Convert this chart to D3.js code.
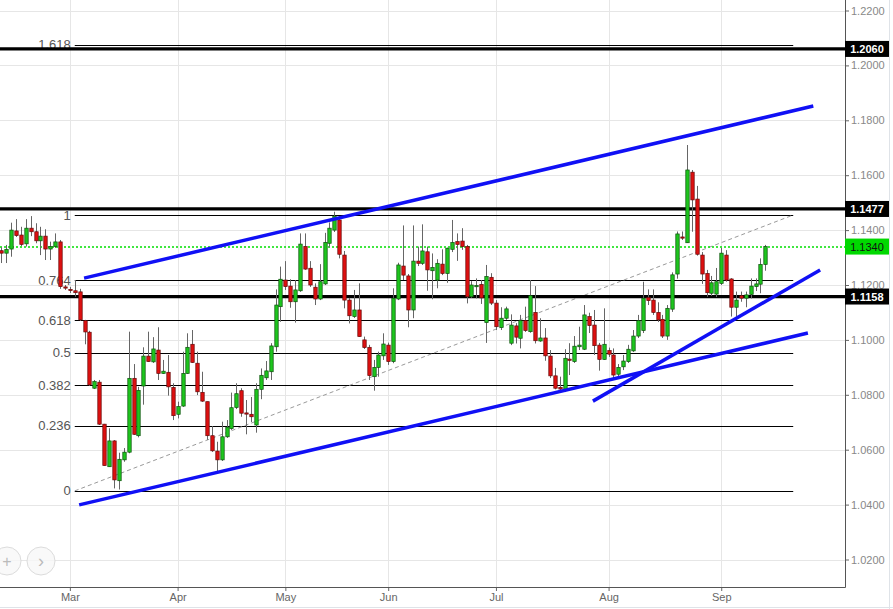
<!DOCTYPE html>
<html><head><meta charset="utf-8">
<script src="https://cdn.jsdelivr.net/npm/d3@7/dist/d3.min.js"></script>
<style>body{margin:0;background:#fff;}svg{display:block;font-family:"Liberation Sans",Arial,sans-serif;}</style>
</head><body>
<svg id="c" width="893" height="609"></svg>
<script>
const opens=[1.1325,1.1316,1.1331,1.1397,1.1382,1.1350,1.1407,1.1394,1.1361,1.1378,1.1331,1.1340,1.1357,1.1193,1.1184,1.1179,1.1175,1.1070,1.1028,1.0824,1.0846,1.0693,1.0538,1.0632,1.0487,1.0563,1.0591,1.0860,1.0651,1.0832,1.0941,1.0920,1.0963,1.0878,1.0882,1.0827,1.0729,1.0759,1.0878,1.0984,1.0915,1.0809,1.0775,1.0651,1.0595,1.0563,1.0647,1.0677,1.0754,1.0815,1.0734,1.0729,1.0690,1.0820,1.0862,1.0884,1.0975,1.1121,1.1218,1.1196,1.1139,1.1179,1.1340,1.1261,1.1192,1.1149,1.1204,1.1352,1.1400,1.1437,1.1309,1.1145,1.1085,1.1109,1.1000,1.0973,1.0866,1.0900,1.0942,1.0981,1.0921,1.1149,1.1269,1.1233,1.1109,1.1287,1.1279,1.1321,1.1252,1.1218,1.1276,1.1242,1.1330,1.1358,1.1360,1.1340,1.1157,1.1194,1.1202,1.1063,1.1228,1.1134,1.1045,1.1079,1.0988,1.1051,1.1006,1.1070,1.1030,1.1100,1.0996,1.1007,1.0941,1.0869,1.0827,1.0815,1.0930,1.0921,1.0975,1.0966,1.1085,1.1054,1.0981,1.0929,1.0961,1.0945,1.0875,1.0902,1.0921,1.0960,1.1014,1.1034,1.1154,1.1145,1.1100,1.1075,1.1014,1.1112,1.1240,1.1375,1.1354,1.1611,1.1513,1.1309,1.1242,1.1170,1.1167,1.1206,1.1309,1.1222,1.1119,1.1161,1.1152,1.1166,1.1194,1.1203,1.1275];
const highs=[1.1338,1.1346,1.1427,1.1440,1.1412,1.1440,1.1451,1.1425,1.1412,1.1403,1.1358,1.1388,1.1364,1.1200,1.1193,1.1218,1.1186,1.1073,1.1033,1.0854,1.0854,1.0694,1.0678,1.0635,1.0589,1.0606,1.1030,1.0912,1.0829,1.0973,1.1030,1.1010,1.1046,1.0927,1.0945,1.0842,1.0775,1.0957,1.1024,1.1036,1.0957,1.0884,1.0775,1.0686,1.0629,1.0702,1.0708,1.0808,1.0842,1.0824,1.0781,1.0792,1.0842,1.0896,1.0923,1.0988,1.1184,1.1267,1.1287,1.1221,1.1218,1.1388,1.1388,1.1287,1.1206,1.1276,1.1390,1.1428,1.1467,1.1449,1.1324,1.1153,1.1182,1.1206,1.1012,1.0982,1.0927,1.0957,1.1024,1.0990,1.1188,1.1281,1.1417,1.1240,1.1417,1.1340,1.1421,1.1340,1.1315,1.1294,1.1330,1.1336,1.1437,1.1388,1.1407,1.1346,1.1214,1.1224,1.1218,1.1273,1.1243,1.1145,1.1119,1.1121,1.1093,1.1061,1.1091,1.1121,1.1218,1.1196,1.1079,1.1043,1.0963,1.0898,1.0866,1.0966,1.0988,1.1014,1.1048,1.1127,1.1099,1.1109,1.0989,1.1115,1.0972,1.0969,1.0912,1.0945,1.0982,1.1036,1.1091,1.1212,1.1184,1.1184,1.1137,1.1091,1.1127,1.1246,1.1395,1.1395,1.1710,1.1619,1.1561,1.1320,1.1255,1.1233,1.1262,1.1335,1.1327,1.1225,1.1176,1.1176,1.1176,1.1224,1.1224,1.1297,1.1346];
const lows=[1.1280,1.1280,1.1303,1.1375,1.1342,1.1340,1.1378,1.1352,1.1309,1.1291,1.1291,1.1335,1.1186,1.1182,1.1171,1.1157,1.1069,1.0984,1.0832,1.0821,1.0690,1.0541,1.0537,1.0459,1.0455,1.0556,1.0587,1.0654,1.0645,1.0764,1.0920,1.0916,1.0854,1.0876,1.0797,1.0708,1.0714,1.0756,1.0876,1.0916,1.0799,1.0774,1.0636,1.0592,1.0516,1.0559,1.0643,1.0672,1.0748,1.0720,1.0656,1.0701,1.0662,1.0784,1.0854,1.0854,1.0957,1.1066,1.1182,1.1117,1.1063,1.1175,1.1255,1.1193,1.1127,1.1145,1.1200,1.1337,1.1393,1.1297,1.1115,1.1060,1.1080,1.1011,1.0967,1.0854,1.0815,1.0866,1.0927,1.0909,1.0915,1.1145,1.1218,1.1046,1.1079,1.1269,1.1273,1.1179,1.1148,1.1188,1.1236,1.1208,1.1320,1.1288,1.1328,1.1133,1.1153,1.1151,1.1131,1.0989,1.1127,1.1036,1.1036,1.1073,1.0981,1.0987,1.0969,1.1029,1.1026,1.0987,1.0993,1.0924,1.0861,1.0820,1.0808,1.0810,1.0872,1.0916,1.0963,1.0963,1.1025,1.0945,1.0888,1.0927,1.0938,1.0854,1.0861,1.0890,1.0916,1.0956,1.1007,1.1025,1.1127,1.1091,1.1065,1.1007,1.1000,1.1102,1.1223,1.1364,1.1353,1.1394,1.1307,1.1204,1.1157,1.1160,1.1156,1.1200,1.1212,1.1085,1.1085,1.1139,1.1119,1.1151,1.1178,1.1170,1.1252];
const closes=[1.1316,1.1330,1.1400,1.1380,1.1348,1.1407,1.1394,1.1361,1.1378,1.1331,1.1340,1.1357,1.1194,1.1189,1.1180,1.1172,1.1073,1.1029,1.0836,1.0848,1.0693,1.0542,1.0632,1.0490,1.0565,1.0591,1.0860,1.0656,1.0816,1.0941,1.0921,1.0967,1.0878,1.0886,1.0829,1.0724,1.0757,1.0878,1.0973,1.0918,1.0811,1.0777,1.0651,1.0596,1.0563,1.0647,1.0682,1.0753,1.0804,1.0733,1.0730,1.0720,1.0820,1.0871,1.0887,1.0978,1.1127,1.1221,1.1194,1.1139,1.1182,1.1349,1.1258,1.1200,1.1149,1.1212,1.1355,1.1407,1.1451,1.1312,1.1145,1.1088,1.1109,1.1012,1.0972,1.0870,1.0900,1.0945,1.0985,1.0921,1.1152,1.1273,1.1236,1.1109,1.1287,1.1279,1.1324,1.1255,1.1264,1.1279,1.1242,1.1334,1.1355,1.1348,1.1340,1.1157,1.1200,1.1198,1.1153,1.1231,1.1134,1.1048,1.1079,1.1113,1.1054,1.1010,1.1070,1.1034,1.1161,1.0997,1.1007,1.0942,1.0869,1.0824,1.0821,1.0933,1.0928,1.0977,1.0981,1.1091,1.1052,1.0979,1.0929,1.0984,1.0948,1.0872,1.0900,1.0923,1.0966,1.1014,1.1070,1.1152,1.1143,1.1100,1.1073,1.1014,1.1115,1.1237,1.1386,1.1373,1.1619,1.1510,1.1312,1.1240,1.1172,1.1208,1.1212,1.1316,1.1218,1.1119,1.1145,1.1152,1.1164,1.1196,1.1204,1.1275,1.1340];

const monthLabels=["Mar","Apr","May","Jun","Jul","Aug","Sep"];
const monthIndex=[14,36,58,79,101,124,147];
const priceTicks=[1.02,1.04,1.06,1.08,1.10,1.12,1.14,1.16,1.18,1.20,1.22];

const fibRatios=[0,0.236,0.382,0.5,0.618,0.764,1,1.618];
const fibLabels=["0","0.236","0.382","0.5","0.618","0.764","1","1.618"];
const fibLow=1.0450, fibHigh=1.1455;
const fibSpan=[15,161.7];

const keyLevels=[1.2060,1.1477,1.1158];
const lastPrice=1.1340;

const trendUpper=[[16.9,1.1225],[165.8,1.1852]];
const trendLower=[[15.9,1.0399],[164.7,1.1025]];
const trendSteep=[[120.8,1.0777],[167.2,1.1255]];

const W=893,H=609,plotR=845,plotB=587;
const svg=d3.select("#c");
const x=d3.scaleLinear().domain([0,156]).range([1.3,765.3]);
const y=d3.scaleLinear().domain([1.02,1.22]).range([559.5,10.5]);

svg.append("rect").attr("width",W).attr("height",H).attr("fill","#fff");

// grid
const g=svg.append("g");
g.selectAll("line.h").data(priceTicks).join("line")
 .attr("x1",0).attr("x2",plotR).attr("y1",d=>Math.round(y(d))+0.5).attr("y2",d=>Math.round(y(d))+0.5)
 .attr("stroke","#e6e6e6");
g.selectAll("line.v").data(monthIndex).join("line")
 .attr("x1",d=>Math.round(x(d))+0.5).attr("x2",d=>Math.round(x(d))+0.5).attr("y1",0).attr("y2",plotB)
 .attr("stroke","#e6e6e6");

// fib levels
const fibPrice=r=>fibLow+r*(fibHigh-fibLow);
const fg=svg.append("g");
fg.selectAll("line").data(fibRatios).join("line")
 .attr("x1",x(fibSpan[0])).attr("x2",x(fibSpan[1]))
 .attr("y1",d=>Math.round(y(fibPrice(d)))+0.5).attr("y2",d=>Math.round(y(fibPrice(d)))+0.5)
 .attr("stroke","#000").attr("stroke-width",1.2);
fg.selectAll("text").data(fibRatios).join("text")
 .attr("x",x(fibSpan[0])-4).attr("y",d=>y(fibPrice(d)))
 .attr("text-anchor","end").attr("dominant-baseline","central")
 .attr("font-size",13).attr("fill","#555").text((d,i)=>fibLabels[i]);
// diagonal
svg.append("line").attr("x1",x(fibSpan[0])).attr("y1",y(fibLow)).attr("x2",x(fibSpan[1])).attr("y2",y(fibHigh))
 .attr("stroke","#9a9a9a").attr("stroke-width",1).attr("stroke-dasharray","4,3");

// key levels
const kg=svg.append("g");
kg.selectAll("line").data(keyLevels).join("line")
 .attr("x1",0).attr("x2",plotR).attr("y1",d=>y(d)).attr("y2",d=>y(d))
 .attr("stroke","#000").attr("stroke-width",3.2);
svg.append("line").attr("x1",0).attr("x2",plotR).attr("y1",Math.round(y(lastPrice))).attr("y2",Math.round(y(lastPrice)))
 .attr("stroke","#00e000").attr("stroke-width",1.6).attr("stroke-dasharray","2,2");

// candles
const data=opens.map((o,i)=>({i,o,h:highs[i],l:lows[i],c:closes[i]}));
const cg=svg.append("g");
cg.selectAll("line").data(data).join("line")
 .attr("x1",d=>Math.round(x(d.i))+0.5).attr("x2",d=>Math.round(x(d.i))+0.5)
 .attr("y1",d=>y(d.h)).attr("y2",d=>y(d.l)).attr("stroke","#666").attr("stroke-width",1);
const bw=3.4;
cg.selectAll("rect").data(data).join("rect")
 .attr("x",d=>Math.round(x(d.i))+0.5-bw/2).attr("width",bw)
 .attr("y",d=>y(Math.max(d.o,d.c)))
 .attr("height",d=>Math.max(1.2,Math.abs(y(d.o)-y(d.c))))
 .attr("fill",d=>d.c>=d.o?"#1ec51e":"#dd1010")
 .attr("stroke",d=>d.c>=d.o?"#0b500b":"#650909").attr("stroke-width",0.7);

// trend lines
const line=d3.line().x(d=>x(d[0])).y(d=>y(d[1]));
svg.append("g").selectAll("path").data([trendUpper,trendLower,trendSteep]).join("path")
 .attr("d",line).attr("fill","none").attr("stroke","#1010f5").attr("stroke-width",3.5);

// axes
const ra=svg.append("g").attr("transform",`translate(${plotR},0)`)
 .call(d3.axisRight(y).tickValues(priceTicks).tickFormat(d3.format(".4f")).tickSize(4).tickPadding(2));
ra.select(".domain").remove();
ra.selectAll("line").attr("stroke","#666");
ra.selectAll("text").attr("fill","#888").attr("font-size",11).attr("font-family","'Liberation Sans',Arial,sans-serif");
const ba=svg.append("g").attr("transform",`translate(0,${plotB})`)
 .call(d3.axisBottom(x).tickValues(monthIndex).tickFormat((d,i)=>monthLabels[i]).tickSize(4).tickPadding(2));
ba.select(".domain").remove();
ba.selectAll("line").attr("stroke","#666");
ba.selectAll("text").attr("fill","#666").attr("font-size",11).attr("font-family","'Liberation Sans',Arial,sans-serif");
svg.append("line").attr("x1",plotR+0.5).attr("x2",plotR+0.5).attr("y1",0).attr("y2",plotB+0.5).attr("stroke","#555");
svg.append("line").attr("x1",0).attr("x2",plotR+0.5).attr("y1",plotB+0.5).attr("y2",plotB+0.5).attr("stroke","#555");
// frame
svg.append("line").attr("x1",889.5).attr("x2",889.5).attr("y1",0).attr("y2",H).attr("stroke","#dfe3e8");
svg.append("line").attr("x1",0).attr("x2",W).attr("y1",607.5).attr("y2",607.5).attr("stroke","#dfe3e8");

// price boxes
const boxes=keyLevels.map(v=>({v,bg:"#000",fg:"#fff",bold:true})).concat([{v:lastPrice,bg:"#00d800",fg:"#111",bold:false}]);
const bx=svg.append("g").selectAll("g").data(boxes).join("g");
bx.append("rect").attr("x",plotR).attr("width",44).attr("y",d=>y(d.v)-8).attr("height",16).attr("fill",d=>d.bg);
bx.append("text").attr("x",plotR+22).attr("y",d=>y(d.v)).attr("text-anchor","middle").attr("dominant-baseline","central")
 .attr("font-size",11).attr("font-weight",d=>d.bold?"bold":"normal").attr("fill",d=>d.fg).text(d=>d.v.toFixed(4));

// nav buttons
const nav=svg.append("g");
[[7,561,"+"],[41,561,"\u203A"]].forEach(b=>{
 nav.append("circle").attr("cx",b[0]).attr("cy",b[1]).attr("r",14).attr("fill","#f7f7f7").attr("fill-opacity",0.8).attr("stroke","#dcdcdc");
 nav.append("text").attr("x",b[0]).attr("y",b[1]).attr("text-anchor","middle").attr("dominant-baseline","central")
  .attr("font-size",b[2]==="+"?16:18).attr("fill","#bbb").text(b[2]);
});
</script>
</body></html>
